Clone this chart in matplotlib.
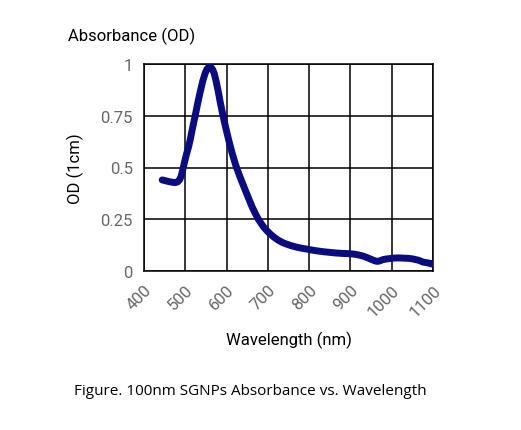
import numpy as np
import matplotlib.pyplot as plt

wavelength = [444, 452, 460, 468, 475, 481, 486, 490, 494, 498, 503, 508, 512, 518, 524,
              530, 536, 542, 548, 553, 558, 562, 566, 570, 575, 580, 585, 591, 598, 605,
              613, 622, 633, 646, 655, 662, 670, 677, 684, 690, 697, 705, 715, 725, 735,
              745, 757, 770, 782, 794, 807, 820, 835, 850, 865, 880, 894, 907, 916, 925,
              932, 939, 946, 952, 958, 963, 967, 971, 975, 979, 987, 995, 1003, 1012, 1021,
              1030, 1041, 1052, 1058, 1065, 1070, 1076, 1082, 1088, 1093, 1097, 1100]
od = [0.44, 0.436, 0.432, 0.429, 0.427, 0.43, 0.44, 0.458, 0.49, 0.525, 0.565, 0.6, 0.635, 0.695, 0.75,
      0.81, 0.864, 0.915, 0.955, 0.977, 0.986, 0.984, 0.974, 0.955, 0.914, 0.866, 0.812, 0.754, 0.692, 0.634,
      0.573, 0.512, 0.452, 0.387, 0.343, 0.309, 0.276, 0.25, 0.229, 0.212, 0.196, 0.18, 0.163, 0.149, 0.138,
      0.13, 0.122, 0.115, 0.11, 0.106, 0.101, 0.097, 0.093, 0.09, 0.087, 0.085, 0.084, 0.082, 0.079, 0.075,
      0.071, 0.066, 0.06, 0.055, 0.05, 0.047, 0.047, 0.049, 0.052, 0.055, 0.058, 0.06, 0.062, 0.063, 0.063,
      0.062, 0.061, 0.058, 0.055, 0.052, 0.048, 0.043, 0.041, 0.039, 0.036, 0.034, 0.038]

plt.rcParams['font.family'] = ['Roboto', 'DejaVu Sans']

fig = plt.figure(figsize=(5.21, 4.31), dpi=100)
ax = fig.add_axes([144/521, 1 - 272/431, 289/521, 207/431])

ax.plot(wavelength, od, color='#0b0b80', linewidth=5, solid_capstyle='round',
        solid_joinstyle='round', zorder=3)

ax.set_xlim(400, 1100)
ax.set_ylim(0, 1)
ax.set_xticks(np.arange(400, 1101, 100))
ax.set_yticks([0, 0.25, 0.5, 0.75, 1])
ax.set_yticklabels(['0', '0.25', '0.5', '0.75', '1'])
ax.grid(True, color='black', linewidth=1.1)
for s in ax.spines.values():
    s.set_color('black')
    s.set_linewidth(1.1)
ax.tick_params(length=0, labelsize=12, colors='#666666', pad=8)
plt.setp(ax.get_xticklabels(), rotation=45, ha='right', va='top', rotation_mode='anchor')

ax.set_xlabel('Wavelength (nm)', fontsize=12, labelpad=8)
ax.set_ylabel('OD (1cm)', fontsize=12, labelpad=12)

fig.text(68/521, 1 - 36/431, 'Absorbance (OD)', fontsize=12, ha='left', va='center')
fig.text(250/521, 1 - 392/431, 'Figure. 100nm SGNPs Absorbance vs. Wavelength',
         fontsize=11, ha='center', va='center', family='Open Sans')

fig.savefig('out.png', dpi=100)
